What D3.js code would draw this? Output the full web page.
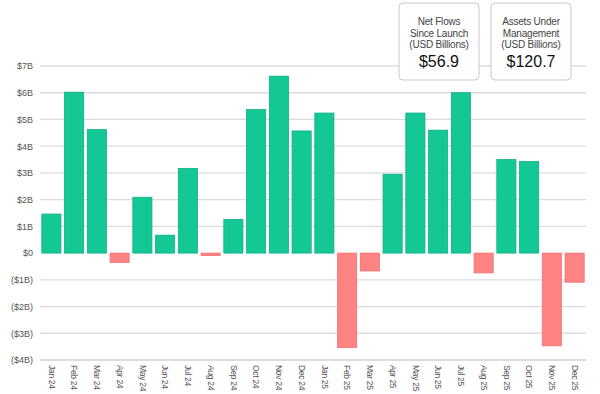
<!DOCTYPE html>
<html>
<head>
<meta charset="utf-8">
<script src="https://cdn.jsdelivr.net/npm/d3@7"></script>
<style>
  body { margin: 0; background: #fff; }
  svg { font-family: "Liberation Sans", Arial, sans-serif; }
</style>
</head>
<body>
<svg width="600" height="394"></svg>
<script>
// monthly net flows, USD billions
var months = ["Jan 24", "Feb 24", "Mar 24", "Apr 24", "May 24", "Jun 24", "Jul 24", "Aug 24",
    "Sep 24", "Oct 24", "Nov 24", "Dec 24", "Jan 25", "Feb 25", "Mar 25", "Apr 25",
    "May 25", "Jun 25", "Jul 25", "Aug 25", "Sep 25", "Oct 25", "Nov 25", "Dec 25"];
var flows = [1.46, 6.02, 4.62, -0.35, 2.09, 0.67, 3.17, -0.09,
    1.26, 5.37, 6.62, 4.57, 5.24, -3.53, -0.67, 2.95,
    5.24, 4.60, 6.00, -0.74, 3.50, 3.43, -3.47, -1.09];
var yTicks = [-4, -3, -2, -1, 0, 1, 2, 3, 4, 5, 6, 7];
var cards = [
    {lines: ["Net Flows", "Since Launch", "(USD Billions)"], value: "$56.9"},
    {lines: ["Assets Under", "Management", "(USD Billions)"], value: "$120.7"}
];

var svg = d3.select("svg"),
    margin = {top: 66, right: 14, bottom: 34, left: 40},
    width = +svg.attr("width") - margin.left - margin.right,
    height = +svg.attr("height") - margin.top - margin.bottom;

var x = d3.scaleBand().domain(months).range([0, width]).paddingInner(0.16).paddingOuter(0.08);
var y = d3.scaleLinear().domain([-4, 7]).range([height, 0]);

var g = svg.append("g").attr("transform", `translate(${margin.left},${margin.top})`);

function fmt(v) {
    if (v === 0) return "$0";
    return v < 0 ? "($" + (-v) + "B)" : "$" + v + "B";
}

// grid lines (no line at zero)
g.append("g")
    .selectAll("line")
    .data(yTicks.filter(d => d !== 0))
    .enter().append("line")
    .attr("x1", 0).attr("x2", width)
    .attr("y1", d => y(d)).attr("y2", d => y(d))
    .attr("stroke", "#dcdcdc")
    .attr("stroke-width", d => d === -4 ? 2 : 1.3);

var yAxis = g.append("g")
    .call(d3.axisLeft(y).tickValues(yTicks).tickFormat(fmt).tickSize(0).tickPadding(7));
yAxis.select(".domain").remove();
yAxis.selectAll("text").attr("font-size", 9).attr("fill", "#555");

// bars
g.append("g")
    .selectAll("rect")
    .data(flows)
    .enter().append("rect")
    .attr("x", (d, i) => x(months[i]))
    .attr("width", x.bandwidth())
    .attr("y", d => y(Math.max(0, d)))
    .attr("height", d => Math.abs(y(d) - y(0)))
    .attr("fill", d => d >= 0 ? "#14c896" : "#ff8383")
    .attr("stroke", d => d >= 0 ? "#0fae82" : "#f27070")
    .attr("stroke-width", 0.8);

var xAxis = g.append("g")
    .attr("transform", `translate(0,${height})`)
    .call(d3.axisBottom(x).tickSize(0).tickPadding(6));
xAxis.select(".domain").remove();
xAxis.selectAll("text")
    .attr("font-size", 8.5)
    .attr("letter-spacing", -0.3)
    .attr("fill", "#555")
    .attr("transform", "rotate(90)")
    .attr("text-anchor", "start")
    .attr("x", 5)
    .attr("y", 0)
    .attr("dy", "0.32em");

// summary cards top right
var card = svg.append("g")
    .selectAll("g")
    .data(cards)
    .enter().append("g")
    .attr("transform", (d, i) => `translate(${399 + i * 92},3)`);

card.append("rect")
    .attr("width", 80).attr("height", 77)
    .attr("rx", 4)
    .attr("fill", "#fff")
    .attr("stroke", "#c8c8c8")
    .attr("stroke-width", 1);

card.each(function (d) {
    var c = d3.select(this);
    d.lines.forEach((t, j) => {
        c.append("text")
            .attr("x", 40).attr("y", 22 + j * 11.5)
            .attr("text-anchor", "middle")
            .attr("font-size", 10)
            .attr("letter-spacing", -0.2)
            .attr("fill", "#444")
            .text(t);
    });
    c.append("text")
        .attr("x", 40).attr("y", 64)
        .attr("text-anchor", "middle")
        .attr("font-size", 16)
        .attr("fill", "#111")
        .text(d.value);
});
</script>
</body>
</html>
